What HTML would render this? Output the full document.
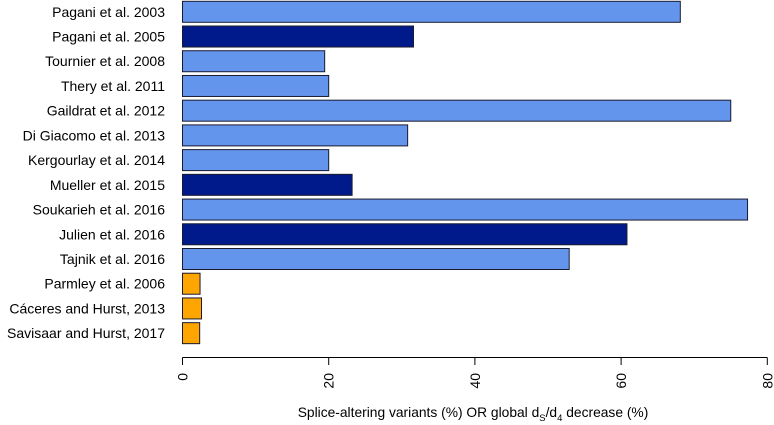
<!DOCTYPE html>
<html><head><meta charset="utf-8"><style>
body{margin:0;background:#fff;}
svg{display:block;font-family:"Liberation Sans",Arial,sans-serif;}
</style></head><body>
<svg id="chart" width="774" height="425"></svg>
<script>
const categories=["Pagani et al. 2003","Pagani et al. 2005","Tournier et al. 2008","Thery et al. 2011","Gaildrat et al. 2012","Di Giacomo et al. 2013","Kergourlay et al. 2014","Mueller et al. 2015","Soukarieh et al. 2016","Julien et al. 2016","Tajnik et al. 2016","Parmley et al. 2006","Cáceres and Hurst, 2013","Savisaar and Hurst, 2017"];
const values=[68.1,31.6,19.45,20.0,75.0,30.8,20.0,23.2,77.3,60.8,52.9,2.4,2.6,2.35];
const groups=["light","dark","light","light","light","light","light","dark","light","dark","light","orange","orange","orange"];
const ticks=[0,20,40,60,80];
const colors={light:"#6495ED",dark:"#001A8C",orange:"#FFA500"};
const NS="http://www.w3.org/2000/svg";
const svg=document.getElementById('chart');
const x=v=>182.5+v*7.31;
const y=i=>1.3+i*24.72;
const bh=21;
function mk(t,a){const e=document.createElementNS(NS,t);for(const k in a)e.setAttribute(k,a[k]);svg.appendChild(e);return e;}
categories.forEach((c,i)=>{
  const r=mk('rect',{x:x(0),y:y(i),width:x(values[i])-x(0),height:bh,fill:colors[groups[i]],stroke:"#1a1a2e","stroke-width":1});
  
  
  const t=mk('text',{x:165,y:y(i)+bh/2+5,"text-anchor":"end","font-size":14,fill:"#000"});
  t.textContent=c;
  
  
});
const ax=mk('line',{x1:x(0),x2:x(80),y1:357.5,y2:357.5,stroke:"#000","stroke-width":1});


ticks.forEach(v=>{
  const l=mk('line',{x1:x(v),x2:x(v),y1:357.5,y2:365,stroke:"#000"});
  
  
  const t=mk('text',{x:0,y:0,"text-anchor":"end","font-size":14,transform:`translate(${x(v)+5},373) rotate(-90)`});
  t.textContent=v;
  
  
});
const tt=mk('text',{x:473,y:417,"text-anchor":"middle","font-size":13.8});
tt.innerHTML='Splice-altering variants (%) OR global d<tspan font-size="9.5" dy="4">S</tspan><tspan dy="-4">/d</tspan><tspan font-size="9.5" dy="4">4</tspan><tspan dy="-4"> decrease (%)</tspan>';


</script>
</body></html>
